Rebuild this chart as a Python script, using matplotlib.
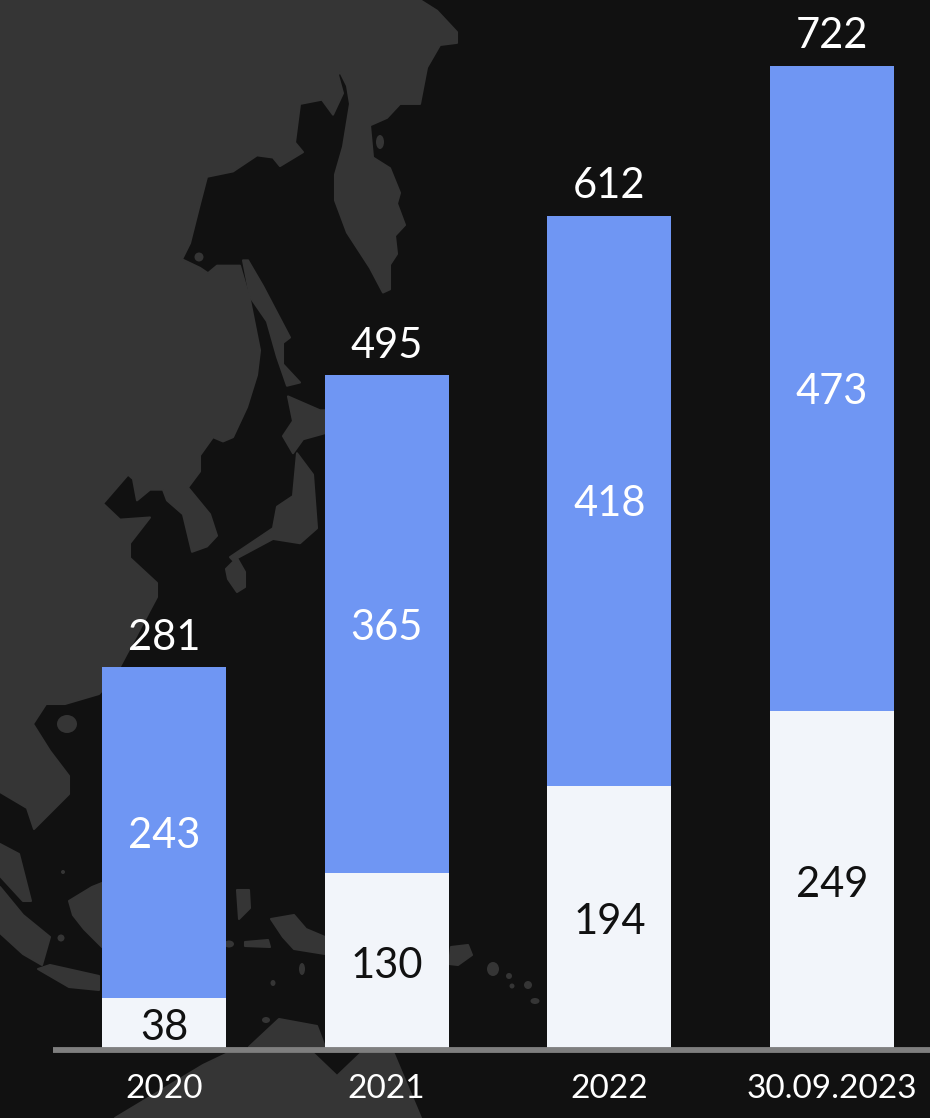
import matplotlib
matplotlib.use("Agg")
import matplotlib.pyplot as plt
from matplotlib.patches import Polygon, Ellipse

plt.rcParams['font.family'] = ['Lato', 'DejaVu Sans']

# chart values
periods = ['2020', '2021', '2022', '30.09.2023']
white_vals = [38, 130, 194, 249]
blue_vals = [243, 365, 418, 473]
totals = [281, 495, 612, 722]

BG = '#111111'
LAND = '#353535'
BLUE = '#6f96f3'
PALE = '#f2f5fa'
W, H = 930, 1118

# background map, rough outlines in image pixels (it is only decoration)
north = [(0, 0), (420, 0), (437, 10), (457, 30), (457, 40), (440, 42), (427, 63), (420, 97),
         (400, 97), (387, 110), (370, 117), (373, 147), (390, 157), (400, 180), (397, 190),
         (405, 210), (395, 220), (397, 237), (390, 247), (390, 270), (383, 273), (370, 250),
         (347, 217), (335, 187), (335, 163), (343, 137), (350, 97), (347, 80), (340, 67),
         (338, 70), (343, 87), (333, 107), (322, 93), (300, 97), (295, 133), (303, 142),
         (280, 155), (273, 147), (257, 145), (233, 160), (207, 165), (200, 190), (190, 227),
         (182, 242), (200, 250), (208, 255), (217, 248), (240, 248), (250, 280), (260, 327),
         (257, 350), (247, 380), (233, 408), (223, 412), (213, 408), (200, 425), (200, 440),
         (188, 455), (210, 480), (217, 500), (207, 510), (192, 515), (183, 480), (167, 467),
         (163, 457), (150, 457), (137, 467), (133, 447), (128, 443), (103, 470), (120, 485),
         (150, 483), (130, 507)]
south = [(130, 558), (157, 583), (157, 597), (115, 676), (99, 694), (65, 704), (46, 704),
         (33, 724), (50, 751), (69, 776), (69, 794), (34, 829), (27, 808), (0, 792)]
sakhalin = [(243, 243), (248, 243), (263, 267), (290, 315), (283, 320), (283, 340), (300, 357),
            (287, 360), (277, 333), (267, 300), (250, 277)]
hokkaido = [(288, 370), (320, 383), (330, 383), (330, 403), (303, 410), (293, 423), (283, 407),
            (293, 393)]
honshu = [(297, 423), (313, 443), (317, 493), (300, 507), (273, 503), (233, 523), (230, 520),
          (273, 493), (277, 473), (293, 463)]
stretch = 1.0714


def stretched(pts):
    return [(px, py * stretch) for px, py in pts]


asia = stretched(north) + south
kyushu = [(226, 569), (237, 558), (245, 572), (245, 587), (237, 592), (228, 579)]
malay = [(0, 844), (19, 854), (31, 901), (23, 901), (0, 876)]
sumatra = [(0, 887), (23, 915), (50, 937), (42, 965), (23, 954), (0, 933)]
java = [(38, 969), (50, 965), (99, 976), (99, 990), (69, 987)]
borneo = [(69, 901), (92, 887), (102, 883), (102, 947), (84, 929), (73, 915)]
philippines = [(237, 890), (249, 890), (250, 908), (239, 919)]
celebes = [(271, 919), (294, 915), (306, 929), (325, 937), (325, 954), (294, 949), (283, 937)]
timor = [(245, 942), (268, 940), (270, 947), (245, 946)]
arc = [(451, 947), (468, 945), (472, 955), (458, 965), (449, 964)]
nt_aus = [(249, 1047), (279, 1019), (317, 1026), (325, 1047)]
australia = [(203, 1065), (226, 1054), (314, 1054), (337, 1076), (360, 1054), (394, 1054),
             (421, 1118), (115, 1118)]
land_shapes = [asia, stretched(sakhalin), stretched(hokkaido), stretched(honshu), kyushu, malay,
               sumatra, java, borneo, philippines, celebes, timor, arc, nt_aus, australia]
small_isles = [(67, 724, 20, 18), (493, 969, 12, 14), (509, 976, 6, 6), (528, 985, 8, 8),
               (512, 986, 5, 5), (535, 1001, 9, 6), (229, 944, 10, 7), (302, 969, 6, 12),
               (273, 983, 5, 6), (266, 1020, 8, 6), (63, 872, 4, 4), (61, 938, 7, 7),
               (380, 142, 8, 14), (199, 257, 9, 9)]

fig = plt.figure(figsize=(W / 100, H / 100), dpi=100, facecolor=BG)

# map goes on its own axes under the bars
map_ax = fig.add_axes([0, 0, 1, 1], zorder=0)
map_ax.set_xlim(0, W)
map_ax.set_ylim(H, 0)
map_ax.axis('off')
for pts in land_shapes:
    map_ax.add_patch(Polygon(pts, closed=True, facecolor=LAND, edgecolor=LAND, linewidth=1.5,
                             joinstyle='round'))
for cx, cy, ew, eh in small_isles:
    map_ax.add_patch(Ellipse((cx, cy), ew, eh, facecolor=LAND, edgecolor='none'))

ax = fig.add_axes([0, 0, 1, 1], zorder=1)
ax.patch.set_alpha(0)
ax.axis('off')

x = list(range(len(periods)))
step = 222.67
px_per_unit = 1.363
ax.set_xlim(-164 / step, (W - 164) / step)
ax.set_ylim(-68 / px_per_unit, 1050 / px_per_unit)

ax.bar(x, white_vals, width=124 / step, color=PALE, linewidth=0, zorder=2)
ax.bar(x, blue_vals, width=124 / step, bottom=white_vals, color=BLUE, linewidth=0, zorder=2)

# baseline
ax.hlines(-0.3, (53 - 164) / step, (W - 164) / step, color='#7f7f7f', linewidth=4.2, zorder=3)

for i in x:
    ax.text(i, white_vals[i] / 2 - 0.6, str(white_vals[i]), ha='center', va='center_baseline',
            fontsize=30, color='#111111', zorder=4)
    ax.text(i, white_vals[i] + blue_vals[i] / 2, str(blue_vals[i]), ha='center',
            va='center_baseline', fontsize=30, color='white', zorder=4)
    ax.text(i, totals[i] + 24.2, str(totals[i]), ha='center', va='center_baseline',
            fontsize=30, color='white', zorder=4)
    ax.text(i, -26.5, periods[i], ha='center', va='center_baseline', fontsize=24, color='white',
            zorder=4)

fig.savefig('out.png', dpi=100, facecolor=BG)
